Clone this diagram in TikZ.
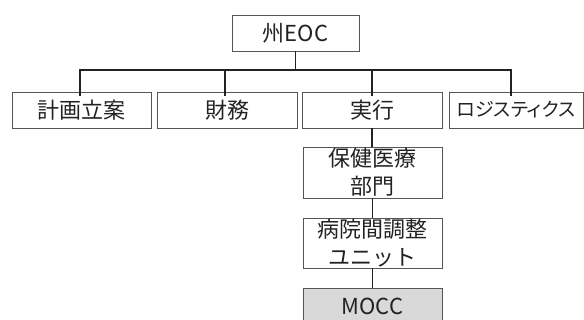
\documentclass[tikz,border=0pt]{standalone}
\usepackage{fontspec}
\newfontfamily\jp{Noto Sans CJK JP}
\newfontfamily\jpp[RawFeature=+palt]{Noto Sans CJK JP}
\definecolor{boxline}{HTML}{555555}
\definecolor{txt}{HTML}{222222}
\definecolor{moccfill}{HTML}{D9D9D9}
\begin{document}
\begin{tikzpicture}[x=1pt,y=-1pt,
  orgbox/.style={draw=boxline,line width=0.9pt,rectangle,inner sep=0pt,
    font=\jp\fontsize{22}{28}\selectfont,text=txt,align=center},
  conn/.style={draw=txt,line width=1.2pt}]
\useasboundingbox (0,0) rectangle (584,320);
\node[orgbox,minimum width=127,minimum height=36] (eoc) at (295.5,33) {州EOC};
\node[orgbox,minimum width=139,minimum height=36] (plan) at (81.5,110) {計画立案};
\node[orgbox,minimum width=140,minimum height=36] (fin) at (227,110) {財務};
\node[orgbox,minimum width=140,minimum height=36] (ops) at (372,110) {実行};
\node[orgbox,minimum width=134,minimum height=36,font=\jpp\fontsize{19}{27}\selectfont] (log) at (516,110) {ロジスティクス};
\node[orgbox,minimum width=139,minimum height=51] (hc) at (372.5,172.5) {保健医療\\部門};
\node[orgbox,minimum width=139,minimum height=50] (hosp) at (372.5,243) {病院間調整\\ユニット};
\node[orgbox,fill=moccfill,minimum width=139,minimum height=36] (mocc) at (372.5,306) {MOCC};
\coordinate (bus) at (0,70);
\coordinate (dplan) at ([xshift=-1.5pt]plan.north);
\coordinate (dfin) at ([xshift=-2pt]fin.north);
\coordinate (dlog) at ([xshift=-5pt]log.north);
\draw[conn] (eoc.south) -- (eoc.south |- bus);
\draw[conn] ([yshift=-4pt]dplan) -- (dplan |- bus) -- (dlog |- bus) -- ([yshift=-4pt]dlog);
\draw[conn] (dfin |- bus) -- ([yshift=-4pt]dfin);
\draw[conn] (ops.north |- bus) -- ([yshift=-4pt]ops.north);
\draw[conn] (ops.south) -- (ops.south |- hc.north);
\draw[conn] (hc.south) -- (hosp.north);
\draw[conn] (hosp.south) -- (mocc.north);
\end{tikzpicture}
\end{document}
